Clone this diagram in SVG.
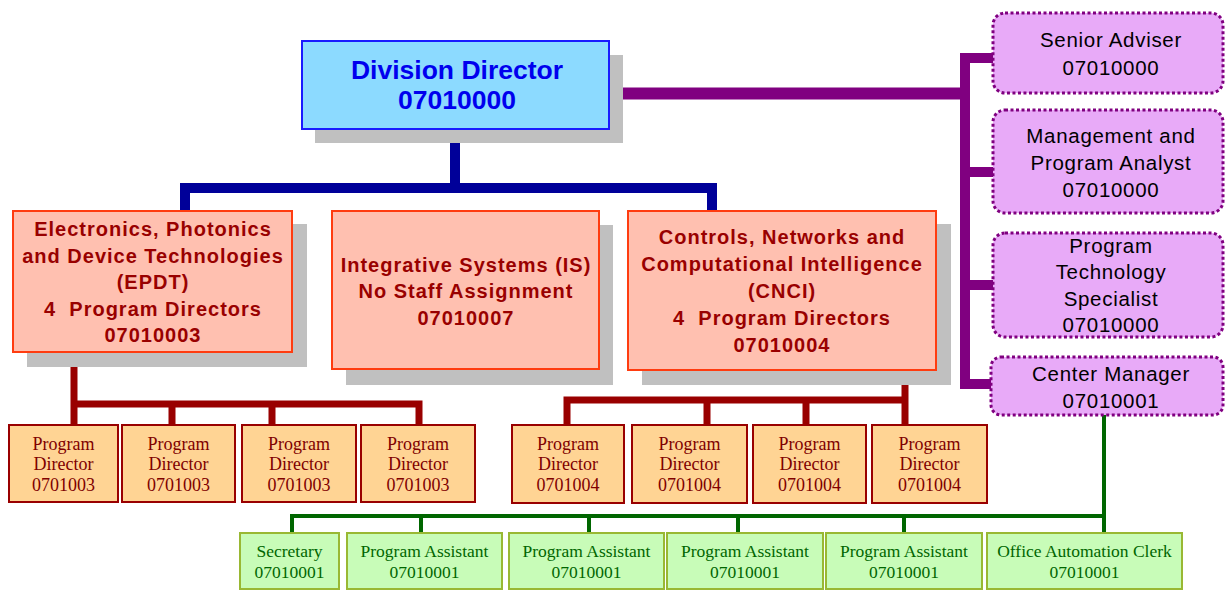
<svg xmlns="http://www.w3.org/2000/svg" width="1225" height="592" viewBox="0 0 1225 592">
<style>
.sh{fill:#c0c0c0}
.dd{fill:#8cdaff;stroke:#1a1aff;stroke-width:2}
.ddt{font-family:"Liberation Sans",Arial,sans-serif;font-weight:bold;font-size:26.5px;fill:#0000ee;text-anchor:middle}
.br{fill:#ffc0b0;stroke:#ff3c10;stroke-width:2}
.brt{font-family:"Liberation Sans",Arial,sans-serif;font-weight:bold;font-size:20px;letter-spacing:1px;fill:#990000;text-anchor:middle;white-space:pre}
.st{fill:#e8aaf8;stroke:#800080;stroke-width:3;stroke-dasharray:3 2.5}
.stt{font-family:"Liberation Sans",Arial,sans-serif;font-size:20.5px;letter-spacing:0.7px;fill:#000;text-anchor:middle}
.pd{fill:#ffd494;stroke:#990000;stroke-width:2}
.pdt{font-family:"Liberation Serif","Times New Roman",serif;font-size:18px;fill:#800000;text-anchor:middle}
.gr{fill:#c8fcb8;stroke:#99b833;stroke-width:2}
.grt{font-family:"Liberation Serif","Times New Roman",serif;font-size:17.5px;fill:#006600;text-anchor:middle}
.cb{fill:none;stroke:#000099;stroke-width:10;stroke-linejoin:miter;stroke-linecap:square}
.cp{fill:none;stroke:#800080;stroke-width:10;stroke-linejoin:miter}
.cr{fill:none;stroke:#990000;stroke-width:7;stroke-linejoin:miter}
.cg{fill:none;stroke:#006600;stroke-width:4;stroke-linejoin:miter}
</style>
<g id="connectors">
<path class="cb" d="M455 143 V188 M185 210 V188 H712 V210"/>
<path class="cp" d="M623 93.5 H965" style="stroke-width:12"/>
<path class="cp" d="M993 58 H965 V384 H993 M965 172 H993 M965 285 H993"/>
<path class="cr" d="M74 367 V425 M74 404 H419 V425 M172 404 V425 M272 404 V425"/>
<path class="cr" d="M905 385 V425 M905 400 H567 V425 M707 400 V425 M806 400 V425"/>
<path class="cg" d="M1104 415 V533 M1104 516 H292 V533 M421 516 V533 M589 516 V533 M738 516 V533 M904 516 V533"/>
</g>
<g id="division-director">
<rect class="sh" x="315" y="55" width="308" height="88"/>
<rect class="dd" x="302" y="41" width="307" height="88"/>
<text class="ddt" x="457" y="79">Division Director</text>
<text class="ddt" x="457" y="109">07010000</text>
</g>
<g id="epdt">
<rect class="sh" x="27" y="224" width="280" height="143"/>
<rect class="br" x="13" y="211" width="279" height="141"/>
<text class="brt" x="153" y="236">Electronics, Photonics</text>
<text class="brt" x="153" y="263">and Device Technologies</text>
<text class="brt" x="153" y="289">(EPDT)</text>
<text class="brt" x="153" y="316">4  Program Directors</text>
<text class="brt" x="153" y="342">07010003</text>
</g>
<g id="is">
<rect class="sh" x="346" y="225" width="267" height="160"/>
<rect class="br" x="332" y="211" width="267" height="158"/>
<text class="brt" x="466" y="272">Integrative Systems (IS)</text>
<text class="brt" x="466" y="298">No Staff Assignment</text>
<text class="brt" x="466" y="325">07010007</text>
</g>
<g id="cnci">
<rect class="sh" x="642" y="224" width="309" height="161"/>
<rect class="br" x="628" y="211" width="308" height="159"/>
<text class="brt" x="782" y="244">Controls, Networks and</text>
<text class="brt" x="782" y="271">Computational Intelligence</text>
<text class="brt" x="782" y="298">(CNCI)</text>
<text class="brt" x="782" y="325">4  Program Directors</text>
<text class="brt" x="782" y="352">07010004</text>
</g>
<g id="senior-adviser">
<rect class="st" x="993" y="13" width="230" height="80" rx="12"/>
<text class="stt" x="1111" y="47">Senior Adviser</text>
<text class="stt" x="1111" y="75">07010000</text>
</g>
<g id="management-analyst">
<rect class="st" x="993" y="110" width="230" height="103" rx="12"/>
<text class="stt" x="1111" y="143">Management and</text>
<text class="stt" x="1111" y="170">Program Analyst</text>
<text class="stt" x="1111" y="197">07010000</text>
</g>
<g id="program-tech-specialist">
<rect class="st" x="993" y="233" width="230" height="104" rx="12"/>
<text class="stt" x="1111" y="253">Program</text>
<text class="stt" x="1111" y="279">Technology</text>
<text class="stt" x="1111" y="306">Specialist</text>
<text class="stt" x="1111" y="332">07010000</text>
</g>
<g id="center-manager">
<rect class="st" x="991" y="357" width="232" height="58" rx="10"/>
<text class="stt" x="1111" y="381">Center Manager</text>
<text class="stt" x="1111" y="408">07010001</text>
</g>
<g id="pd-epdt-1"><rect class="pd" x="9" y="425" width="109" height="77"/><text class="pdt" x="63.5" y="450">Program</text><text class="pdt" x="63.5" y="470">Director</text><text class="pdt" x="63.5" y="491">0701003</text></g>
<g id="pd-epdt-2"><rect class="pd" x="122" y="425" width="113" height="77"/><text class="pdt" x="178.5" y="450">Program</text><text class="pdt" x="178.5" y="470">Director</text><text class="pdt" x="178.5" y="491">0701003</text></g>
<g id="pd-epdt-3"><rect class="pd" x="242" y="425" width="114" height="77"/><text class="pdt" x="299" y="450">Program</text><text class="pdt" x="299" y="470">Director</text><text class="pdt" x="299" y="491">0701003</text></g>
<g id="pd-epdt-4"><rect class="pd" x="361" y="425" width="114" height="77"/><text class="pdt" x="418" y="450">Program</text><text class="pdt" x="418" y="470">Director</text><text class="pdt" x="418" y="491">0701003</text></g>
<g id="pd-cnci-1"><rect class="pd" x="512" y="425" width="112" height="78"/><text class="pdt" x="568" y="450">Program</text><text class="pdt" x="568" y="470">Director</text><text class="pdt" x="568" y="491">0701004</text></g>
<g id="pd-cnci-2"><rect class="pd" x="632" y="425" width="115" height="78"/><text class="pdt" x="689.5" y="450">Program</text><text class="pdt" x="689.5" y="470">Director</text><text class="pdt" x="689.5" y="491">0701004</text></g>
<g id="pd-cnci-3"><rect class="pd" x="753" y="425" width="113" height="78"/><text class="pdt" x="809.5" y="450">Program</text><text class="pdt" x="809.5" y="470">Director</text><text class="pdt" x="809.5" y="491">0701004</text></g>
<g id="pd-cnci-4"><rect class="pd" x="872" y="425" width="115" height="78"/><text class="pdt" x="929.5" y="450">Program</text><text class="pdt" x="929.5" y="470">Director</text><text class="pdt" x="929.5" y="491">0701004</text></g>
<g id="secretary"><rect class="gr" x="240" y="533" width="99" height="56"/><text class="grt" x="289.5" y="557">Secretary</text><text class="grt" x="289.5" y="578">07010001</text></g>
<g id="pa-1"><rect class="gr" x="347" y="533" width="155" height="56"/><text class="grt" x="424.5" y="557">Program Assistant</text><text class="grt" x="424.5" y="578">07010001</text></g>
<g id="pa-2"><rect class="gr" x="509" y="533" width="155" height="56"/><text class="grt" x="586.5" y="557">Program Assistant</text><text class="grt" x="586.5" y="578">07010001</text></g>
<g id="pa-3"><rect class="gr" x="667" y="533" width="156" height="56"/><text class="grt" x="745" y="557">Program Assistant</text><text class="grt" x="745" y="578">07010001</text></g>
<g id="pa-4"><rect class="gr" x="826" y="533" width="156" height="56"/><text class="grt" x="904" y="557">Program Assistant</text><text class="grt" x="904" y="578">07010001</text></g>
<g id="office-automation-clerk"><rect class="gr" x="987" y="533" width="195" height="56"/><text class="grt" x="1084.5" y="557">Office Automation Clerk</text><text class="grt" x="1084.5" y="578">07010001</text></g>
</svg>
